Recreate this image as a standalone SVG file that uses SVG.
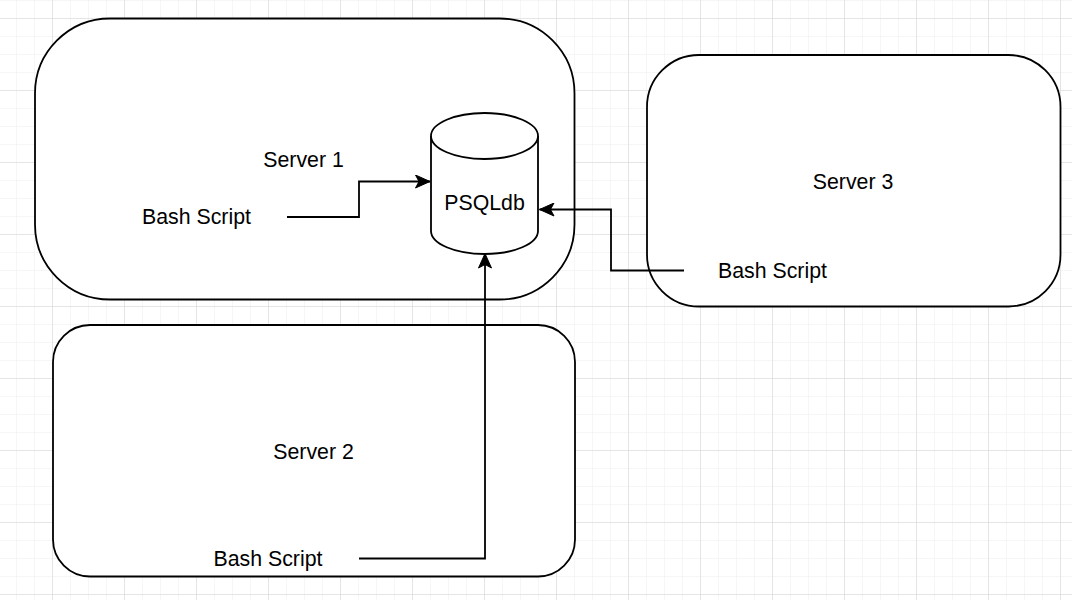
<svg xmlns="http://www.w3.org/2000/svg" width="1072" height="600" viewBox="0 0 1072 600">
  <defs>
    <pattern id="minor" x="16" y="0" width="18" height="18" patternUnits="userSpaceOnUse">
      <path d="M0,0 H18 M0,0 V18" fill="none" stroke="#eeeeee" stroke-width="1"/>
    </pattern>
    <pattern id="major" x="52" y="18" width="72" height="72" patternUnits="userSpaceOnUse">
      <path d="M0,0 H72 M0,0 V72" fill="none" stroke="#d4d4d4" stroke-width="1"/>
    </pattern>
    <marker id="arrow" markerUnits="userSpaceOnUse" markerWidth="16" markerHeight="14" refX="15" refY="7" orient="auto" viewBox="0 0 16 14">
      <path d="M0.5,0.5 L15,7 L0.5,13.5 L4,7 Z" fill="#000" stroke="#000" stroke-width="1"/>
    </marker>
    <style>
      .shape { fill: #ffffff; stroke: #000000; stroke-width: 1.8; }
      .conn { fill: none; stroke: #000000; stroke-width: 1.8; }
      .label { font-family: "Liberation Sans", Arial, sans-serif; font-size: 21.3px; fill: #000000; text-anchor: middle; }
    </style>
  </defs>
  <rect width="1072" height="600" fill="#ffffff"/>
  <rect width="1072" height="600" fill="url(#minor)"/>
  <rect width="1072" height="600" fill="url(#major)"/>

  <g id="server1">
    <rect class="shape" x="35" y="18.5" width="539.5" height="281" rx="75" ry="75"/>
    <text class="label" x="303.5" y="167">Server 1</text>
    <text class="label" x="196.5" y="224">Bash Script</text>
  </g>
  <g id="server3">
    <rect class="shape" x="647" y="55" width="413.5" height="251.5" rx="52" ry="52"/>
    <text class="label" x="853" y="189">Server 3</text>
    <text class="label" x="772.5" y="278">Bash Script</text>
  </g>
  <g id="server2">
    <rect class="shape" x="53" y="325" width="522" height="251.5" rx="37" ry="37"/>
    <text class="label" x="313.5" y="459">Server 2</text>
    <text class="label" x="268" y="566">Bash Script</text>
  </g>
  <g id="psqldb">
    <path class="shape" d="M431,136 A53.5,23 0 0 1 538,136 L538,231 A53.5,23 0 0 1 431,231 Z"/>
    <path class="shape" fill="none" d="M431,136 A53.5,23 0 0 0 538,136"/>
    <text class="label" x="484.5" y="210">PSQLdb</text>
  </g>

  <g id="connectors">
    <path class="conn" d="M287,217 H359 V181.5 H430" marker-end="url(#arrow)"/>
    <path class="conn" d="M684,270.5 H611 V209.5 H539.5" marker-end="url(#arrow)"/>
    <path class="conn" d="M359,558.5 H485 V253.5" marker-end="url(#arrow)"/>
  </g>
</svg>
